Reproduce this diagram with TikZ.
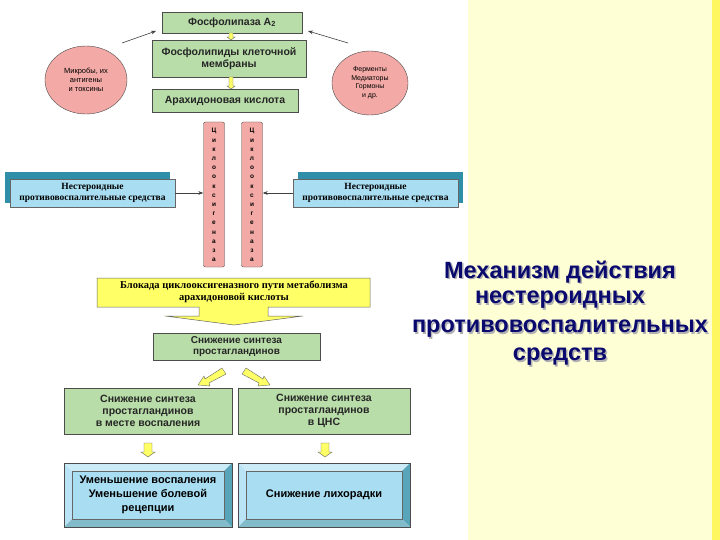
\documentclass[tikz,border=0pt]{standalone}
\usepackage{fontspec}
\setmainfont{Liberation Sans}
\newfontfamily\serifb{Liberation Serif}
\usetikzlibrary{arrows.meta,shapes.geometric}
\definecolor{gfill}{HTML}{B8DDA8}
\definecolor{pinkc}{HTML}{F3AAA6}
\definecolor{lblue}{HTML}{A9DDF2}
\definecolor{teal}{HTML}{2F8FA8}
\definecolor{yel}{HTML}{FFFF66}
\definecolor{panel}{HTML}{FFFFD6}
\definecolor{navy}{HTML}{0A0A6E}
\tikzset{
 gbox/.style={draw=black!70,line width=0.8pt,fill=gfill,font=\bfseries\fontsize{10.5}{12}\selectfont,align=center,text=black!85,inner sep=1pt},
 thin/.style={-{Stealth[length=5pt]},black!75,line width=0.6pt},
 yarr/.style={fill=yel,draw=black!60,line width=0.4pt},
 nsaid/.style={font=\serifb\bfseries\fontsize{9.5}{11}\selectfont,align=center},
}
\begin{document}
\begin{tikzpicture}[x=1pt,y=-1pt]
\useasboundingbox (0,0) rectangle (720,540);
\fill[white] (0,0) rectangle (720,540);
\fill[panel] (468,0) rectangle (720,540);
\fill[yellow!55!panel] (712,0) rectangle (720,540);
% title
\foreach \t/\yy in {Механизм действия/272,нестероидных/300,противовоспалительных/329,средств/357}{
 \node[font=\bfseries\fontsize{23.5}{25}\selectfont,text=gray!60] at (561.5,\yy+1.5) {\t};
 \node[font=\bfseries\fontsize{23.5}{25}\selectfont,text=navy] at (560,\yy) {\t};}
% top boxes
\node[gbox,minimum width=140,minimum height=21] (pla) at (232,22.5) {Фосфолипаза A\textsubscript{2}};
\node[gbox,minimum width=154,minimum height=37] (phl) at (229,58.5) {Фосфолипиды клеточной\\мембраны};
\node[gbox,minimum width=146,minimum height=23] (ara) at (225,100.5) {Арахидоновая кислота};
\foreach \a/\b in {33/40,77/89}{
 \draw[yarr] (229,\a) -- (233,\a) -- (233,\b-3) -- (235,\b-3) -- (231,\b) -- (227,\b-3) -- (229,\b-3) -- cycle;}
% ellipses
\node[ellipse,draw=black!70,fill=pinkc,minimum width=82,minimum height=68,align=center,inner sep=0pt,font=\fontsize{7.5}{9}\selectfont] (mic) at (86,80) {Микробы, их\\антигены\\и токсины};
\node[ellipse,draw=black!70,fill=pinkc,minimum width=76,minimum height=64,align=center,inner sep=0pt,font=\fontsize{7}{8.5}\selectfont] (fer) at (370,83) {Ферменты\\Медиаторы\\Гормоны\\и др.};
\coordinate (pl) at (156,31); \coordinate (pr) at (308,31);
\draw[thin] (122,43) -- (pl);
\draw[thin] (348,43) -- (pr);
% COX bars
\foreach \xx/\nm in {214/coxl,252/coxr}{
 \node[draw=black!70,fill=pinkc,rounded corners=2pt,minimum width=21,minimum height=145,inner sep=0pt] (\nm) at (\xx,194.5) {};
 \node[font=\bfseries\fontsize{6.5}{9.2}\selectfont,align=center,inner sep=0pt] at (\xx,195) {Ц\\и\\к\\л\\о\\о\\к\\с\\и\\г\\е\\н\\а\\з\\а};}
% NSAID boxes
\fill[teal] (5,172) rectangle (170,203);
\node[nsaid,draw=black!60,fill=lblue,minimum width=165,minimum height=28,inner sep=0pt] (nl) at (92.5,193) {Нестероидные\\противовоспалительные средства};
\fill[teal] (298,172) rectangle (463,203);
\node[nsaid,draw=black!60,fill=lblue,minimum width=165,minimum height=28,inner sep=0pt] (nr) at (375.5,193) {Нестероидные\\противовоспалительные средства};
\draw[thin] (nl.east) -- (coxl.west|-nl.east);
\draw[thin] (nr.west) -- (coxr.east|-nr.east);
% block arrow
\draw[fill=yel,draw=black!60,line width=0.5pt] (97,278) -- (370,278) -- (370,307) -- (268,307) -- (268,316) -- (303,316) -- (234,325) -- (165,316) -- (199,316) -- (199,307) -- (97,307) -- cycle;
\node[font=\serifb\bfseries\fontsize{10.5}{11.5}\selectfont,align=center] (blk) at (234,292) {Блокада циклооксигеназного пути метаболизма\\арахидоновой кислоты};
% prostaglandins
\node[gbox,minimum width=167,minimum height=27,font=\bfseries\fontsize{10}{11}\selectfont] (pg) at (236.5,346.5) {Снижение синтеза\\простагландинов};
\draw[yarr] (222,368) -- (226,374) -- (209,383) -- (210,386) -- (198,385) -- (204,376) -- (205,379) -- cycle;
\draw[yarr] (246,368) -- (242,374) -- (259,383) -- (258,386) -- (270,385) -- (264,376) -- (263,379) -- cycle;
% lower boxes
\node[gbox,minimum width=168,minimum height=46] (pl1) at (148,411) {Снижение синтеза\\простагландинов\\в месте воспаления};
\node[gbox,minimum width=172,minimum height=46] (pl2) at (324,411) {Снижение синтеза\\простагландинов\\в ЦНС};
\foreach \xx in {148,325}{
 \draw[yarr] (\xx-4,443) -- (\xx+4,443) -- (\xx+4,452) -- (\xx+7,452) -- (\xx,457) -- (\xx-7,452) -- (\xx-4,452) -- cycle;}
% bevel boxes
\foreach \xa/\xb/\nm in {64/232/r1,238/410/r2}{
 \fill[lblue!60!white] (\xa,463) -- (\xb,463) -- (\xb-8,471) -- (\xa+8,471) -- cycle;
 \fill[lblue!80!white] (\xa,463) -- (\xa+8,471) -- (\xa+8,519) -- (\xa,527) -- cycle;
 \fill[teal!80] (\xb,463) -- (\xb,527) -- (\xb-8,519) -- (\xb-8,471) -- cycle;
 \fill[teal!60] (\xa,527) -- (\xb,527) -- (\xb-8,519) -- (\xa+8,519) -- cycle;
 \draw[black!70] (\xa,463) rectangle (\xb,527);
 \draw[black!60,fill=lblue] (\xa+8,471) rectangle (\xb-8,519);}
\node[font=\bfseries\fontsize{11}{14}\selectfont,align=center] (t1) at (148,495) {Уменьшение воспаления\\Уменьшение болевой\\рецепции};
\node[font=\bfseries\fontsize{11}{14}\selectfont,align=center] (t2) at (324,495) {Снижение лихорадки};
\end{tikzpicture}
\end{document}
